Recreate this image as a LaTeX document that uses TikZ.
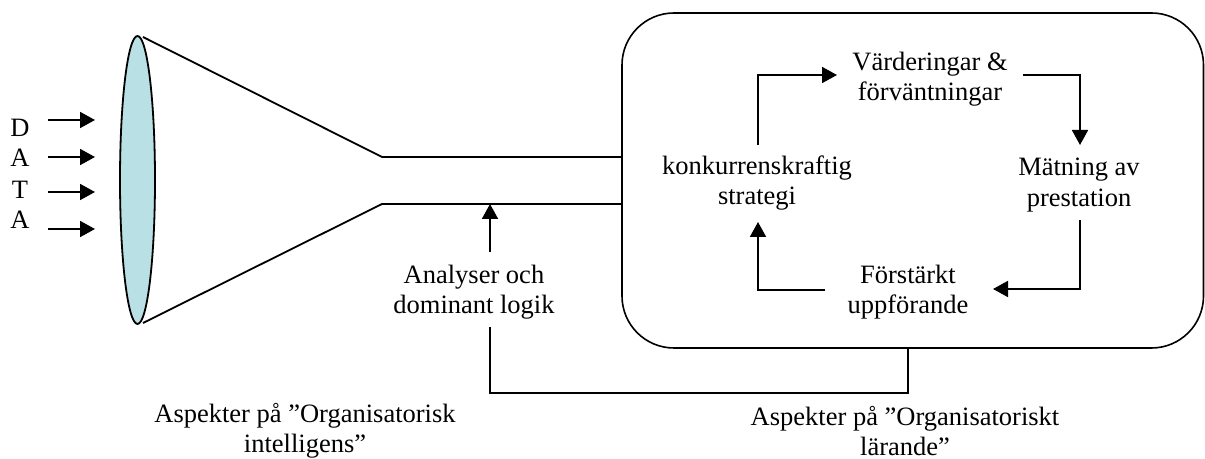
\documentclass[tikz,border=0pt]{standalone}
\usepackage{fontspec}
\setmainfont{Liberation Serif}
\usetikzlibrary{arrows.meta,shapes.geometric}
\definecolor{lenscol}{RGB}{185,224,228}
\begin{document}
\begin{tikzpicture}[x=0.5pt,y=-0.5pt,
  line width=0.9pt,
  lbl/.style={align=center,inner sep=0pt,font=\fontsize{13.25}{15.25}\selectfont},
  arr/.style={-{Triangle[length=7.5pt,width=8pt]}}]
\useasboundingbox (0,0) rectangle (1205,459);

% funnel mouth
\node[draw,fill=lenscol,ellipse,inner sep=0pt,minimum width=17.5pt,minimum height=144pt] (lens) at (137.5,180) {};

% funnel walls and channel
\coordinate (ft) at (143,37);
\coordinate (fb) at (143,323);
\coordinate (nt) at (382,157);
\coordinate (nb) at (382,204);
\coordinate (ct) at (622,157);
\coordinate (cb) at (622,204);
\draw (ft) -- (nt) -- (ct);
\draw (fb) -- (nb) -- (cb);

% incoming data
\node[lbl] (d1) at (20,128) {D};
\node[lbl] (d2) at (20,158) {A};
\node[lbl] (d3) at (20,190) {T};
\node[lbl] (d4) at (20,220) {A};
\foreach \y [count=\i] in {120,157,192,229} {
  \coordinate (ds\i) at (48,\y);
  \coordinate (de\i) at (95,\y);
  \draw[arr] (ds\i) -- (de\i);
}

% learning box
\draw[line width=0.8pt,rounded corners=26pt] (622,13) rectangle (1203.5,348);

% cycle texts
\node[lbl] (val) at (930,79) {Värderingar \&\\förväntningar};
\node[lbl] (mat) at (1079,185) {Mätning av\\prestation};
\node[lbl] (forst) at (908,292) {Förstärkt\\uppförande};
\node[lbl] (strat) at (757,183) {konkurrenskraftig\\strategi};

% cycle arrows
\coordinate (s1) at (758,145);
\coordinate (e1) at (837,75);
\coordinate (s2) at (1023,75);
\coordinate (e2) at (1080,145);
\coordinate (s3) at (1080,220);
\coordinate (e3) at (993,289);
\coordinate (s4) at (825,290);
\coordinate (e4) at (758,222);
\draw[arr] (s1) |- (e1);
\draw[arr] (s2) -| (e2);
\draw[arr] (s3) |- (e3);
\draw[arr] (s4) -| (e4);

% analysis feeding the channel
\node[lbl] (ana) at (474,292) {Analyser och\\dominant logik};
\coordinate (as) at (490,252);
\coordinate (ae) at (490,204);
\draw[arr] (as) -- (ae);
\coordinate (fa) at (490,327);
\coordinate (fbx) at (908,348);
\coordinate (fc) at (490,393);
\draw (fbx) |- (fc) -- (fa);

% aspect captions
\node[lbl] (asp1) at (305,431) {Aspekter på ”Organisatorisk\\intelligens”};
\node[lbl] (asp2) at (905,431) {Aspekter på ”Organisatoriskt\\lärande”};
\end{tikzpicture}
\end{document}
